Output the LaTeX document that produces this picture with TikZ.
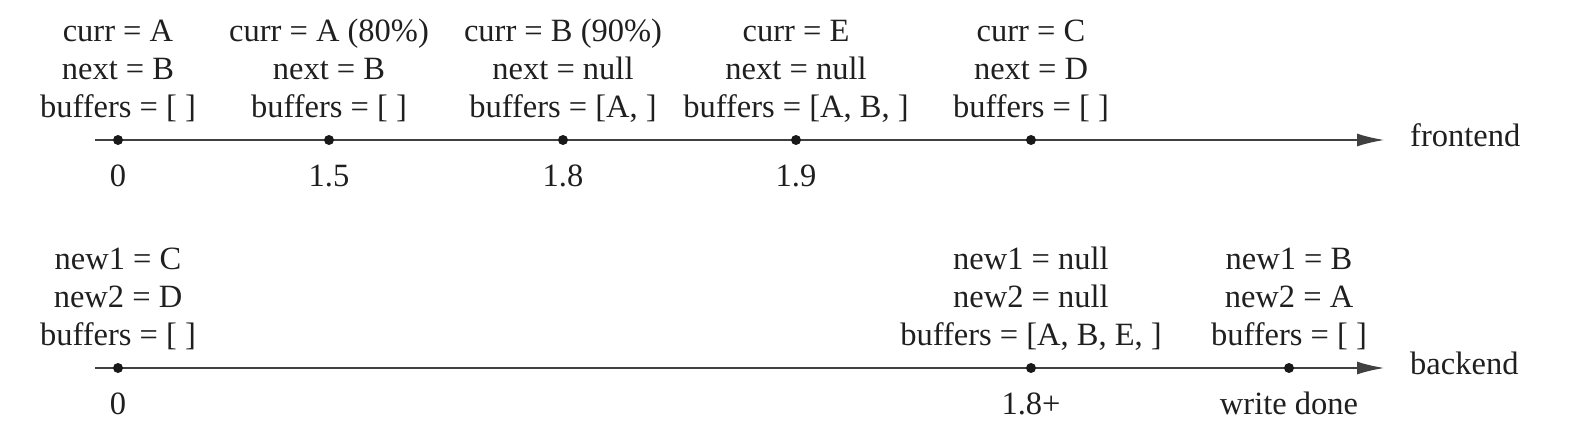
\documentclass[tikz,border=0pt]{standalone}
\usepackage{fontspec}
\setmainfont{Liberation Serif}
\usetikzlibrary{arrows.meta}
\newcommand\stk[1]{\begin{tabular}[b]{@{}c@{}}#1\end{tabular}}
\begin{document}
\begin{tikzpicture}[x=1pt,y=-1pt,
  font=\fontsize{32.5}{38}\selectfont,
  txt/.style={inner sep=0pt, anchor=base, text=black!88},
  lbl/.style={inner sep=0pt, anchor=base west, text=black!88},
  dot/.style={circle, fill=black!90, inner sep=0pt, minimum size=10pt},
  axis/.style={draw=black!75, line width=2.5pt, -{Latex[length=28pt,width=13pt]}}]
\useasboundingbox (0,0) rectangle (1574,444);
% frontend
\coordinate (fs) at (95,140);
\coordinate (fe) at (1385,140);
\draw[axis] (fs) -- (fe);
\node[dot] (f0) at (118,140) {};
\node[dot] (f1) at (329,140) {};
\node[dot] (f2) at (563,140) {};
\node[dot] (f3) at (796,140) {};
\node[dot] (f4) at (1031,140) {};
\node[lbl] (fl) at (1410,146) {frontend};
\node[txt] (s0) at (118,117) {\stk{curr = A\\next = B\\buffers = [ ]}};
\node[txt] (s1) at (329,117) {\stk{curr = A (80\%)\\next = B\\buffers = [ ]}};
\node[txt] (s2) at (563,117) {\stk{curr = B (90\%)\\next = null\\buffers = [A, ]}};
\node[txt] (s3) at (796,117) {\stk{curr = E\\next = null\\buffers = [A, B, ]}};
\node[txt] (s4) at (1031,117) {\stk{curr = C\\next = D\\buffers = [ ]}};
\node[txt] (t0) at (118,186) {0};
\node[txt] (t1) at (329,186) {1.5};
\node[txt] (t2) at (563,186) {1.8};
\node[txt] (t3) at (796,186) {1.9};
% backend
\coordinate (bs) at (95,368);
\coordinate (be) at (1385,368);
\draw[axis] (bs) -- (be);
\node[dot] (b0) at (118,368) {};
\node[dot] (b1) at (1031,368) {};
\node[dot] (b2) at (1289,368) {};
\node[lbl] (bl) at (1410,374) {backend};
\node[txt] (r0) at (118,345) {\stk{new1 = C\\new2 = D\\buffers = [ ]}};
\node[txt] (r1) at (1031,345) {\stk{new1 = null\\new2 = null\\buffers = [A, B, E, ]}};
\node[txt] (r2) at (1289,345) {\stk{new1 = B\\new2 = A\\buffers = [ ]}};
\node[txt] (u0) at (118,414) {0};
\node[txt] (u1) at (1031,414) {1.8+};
\node[txt] (u2) at (1289,414) {write done};
\end{tikzpicture}
\end{document}
